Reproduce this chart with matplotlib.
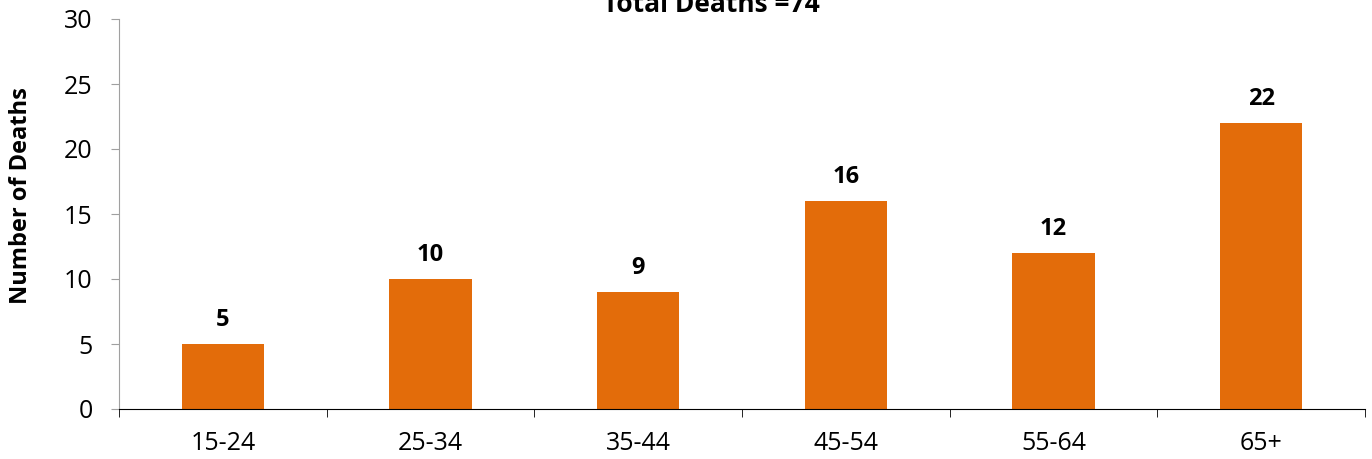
import numpy as np
import matplotlib.pyplot as plt

age_groups = ['15-24', '25-34', '35-44', '45-54', '55-64', '65+']
deaths = [5, 10, 9, 16, 12, 22]
total_deaths = 74

plt.rcParams['font.family'] = ['Open Sans', 'DejaVu Sans']

fig = plt.figure(figsize=(13.72, 4.59), dpi=100)
ax = fig.add_axes([119 / 1372, 50 / 459, 1246 / 1372, 390 / 459])

x = np.arange(len(age_groups))
bars = ax.bar(x, deaths, width=0.395, color='#E36C0A')

# value labels above bars
for xi, v in zip(x, deaths):
    ax.annotate(str(v), (xi, v), xytext=(0, 13), textcoords='offset points',
                ha='center', va='baseline', fontsize=17, fontweight='bold')

ax.set_xlim(-0.5, len(age_groups) - 0.5)
ax.set_ylim(0, 30)
ax.set_yticks(range(0, 31, 5))
ax.tick_params(axis='y', labelsize=18, length=6, color='#A0A0A0', pad=13)

# category labels centered, tick marks on boundaries
ax.set_xticks(x)
ax.set_xticklabels(age_groups, fontsize=18)
ax.tick_params(axis='x', which='major', length=0, pad=16)
ax.set_xticks(np.arange(-0.5, len(age_groups)), minor=True)
ax.tick_params(axis='x', which='minor', length=6, color='black')

for side in ['top', 'right']:
    ax.spines[side].set_visible(False)
ax.spines['left'].set_color('#A0A0A0')
ax.spines['bottom'].set_color('black')

fig.text(21 / 1372, 1 - 196 / 459, 'Number of Deaths', rotation=90, ha='center',
         va='center', fontsize=17, fontweight='bold')
fig.text(711 / 1372, 1 - 12 / 459, 'Total Deaths =' + str(total_deaths), ha='center',
         va='baseline', fontsize=19, fontweight='bold')

fig.savefig('out.png', dpi=100)
